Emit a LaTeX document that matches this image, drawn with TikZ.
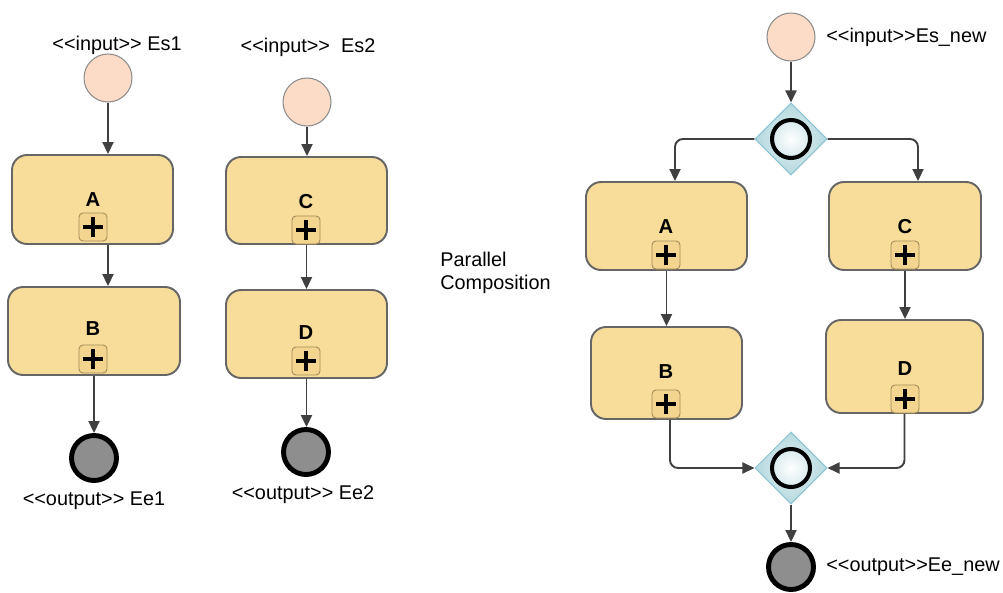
\documentclass[tikz,border=0pt]{standalone}
\usepackage{fontspec}
\setmainfont{Liberation Sans}[Ligatures=TeXOff]
\usetikzlibrary{arrows.meta,shapes.geometric,positioning}
\definecolor{taskfill}{HTML}{F7DC9A}
\definecolor{taskdraw}{HTML}{666666}
\definecolor{markerfill}{HTML}{F3D58F}
\definecolor{markerdraw}{HTML}{A08A58}
\definecolor{startfill}{HTML}{FCDCC6}
\definecolor{startdraw}{HTML}{8C8C8C}
\definecolor{endfill}{HTML}{8E8E8E}
\definecolor{gwlight}{HTML}{E4F2F4}
\definecolor{gwdark}{HTML}{B4D8DF}
\definecolor{gwdraw}{HTML}{8CC3D2}
\definecolor{flowcol}{HTML}{404040}
\tikzset{
  task/.style={draw=taskdraw, fill=taskfill, line width=1.1pt, rounded corners=0.3cm, inner sep=0pt},
  tasktxt/.style={font=\fontsize{11.5}{13}\selectfont\bfseries, inner sep=0pt},
  marker/.style={draw=markerdraw, fill=markerfill, line width=0.5pt, rounded corners=0.08cm,
    minimum size=0.56cm, inner sep=0pt,
    path picture={\draw[line width=2.2pt, black]
      ([xshift=-0.2cm]path picture bounding box.center) -- ([xshift=0.2cm]path picture bounding box.center)
      ([yshift=-0.2cm]path picture bounding box.center) -- ([yshift=0.2cm]path picture bounding box.center);}},
  startev/.style={circle, draw=startdraw, fill=startfill, line width=0.6pt, minimum size=0.96cm, inner sep=0pt},
  endev/.style={circle, draw=black, fill=endfill, line width=2.8pt, minimum size=0.9cm, inner sep=0pt},
  gateway/.style={diamond, draw=gwdraw, line width=0.6pt, shade, inner color=gwlight, outer color=gwdark,
    minimum width=1.44cm, minimum height=1.44cm, inner sep=0pt,
    path picture={\shadedraw[line width=2.3pt, draw=black, inner color=white, outer color=gwdark]
      (path picture bounding box.center) circle (0.38cm);}},
  flow/.style={draw=flowcol, line width=1.1pt, rounded corners=0.16cm, -{Triangle[length=0.24cm,width=0.22cm]}},
  evtxt/.style={font=\fontsize{11.3}{13}\selectfont, inner sep=0pt},
}
\begin{document}
\begin{tikzpicture}[x=0.02cm,y=-0.02cm]
\useasboundingbox (0,0) rectangle (1003,592);
\begin{scope}
\node[startev] (s1) at (108,78) {};
\node[evtxt] (s1t) at (117,45) {<<input>> Es1};
\node[task, minimum width=3.22cm, minimum height=1.78cm] (A1) at (92.5,199.5) {};
\node[tasktxt] (A1t) at (93,200) {A};
\node[marker] (A1m) at (93,227) {};
\node[task, minimum width=3.44cm, minimum height=1.76cm] (B1) at (94,331) {};
\node[tasktxt] (B1t) at (93,329) {B};
\node[marker] (B1m) at (93,359) {};
\node[endev] (e1) at (94,458) {};
\node[evtxt] (e1t) at (94,501) {<<output>> Ee1};
\draw[flow] (s1.south) -- (s1.south |- A1.north);
\draw[flow] (A1.south -| s1.south) -- (s1.south |- B1.north);
\draw[flow] (B1.south) -- (e1.north);
\end{scope}
\begin{scope}
\node[startev] (s2) at (307,102) {};
\node[evtxt] (s2t) at (308,47) {<<input>>\ \ Es2};
\node[task, minimum width=3.22cm, minimum height=1.74cm] (C1) at (306.5,200.5) {};
\node[tasktxt] (C1t) at (306,202) {C};
\node[marker] (C1m) at (306,230) {};
\node[task, minimum width=3.22cm, minimum height=1.76cm] (D1) at (306.5,334) {};
\node[tasktxt] (D1t) at (306,333) {D};
\node[marker] (D1m) at (306,361) {};
\node[endev] (e2) at (306,452) {};
\node[evtxt] (e2t) at (303,495) {<<output>> Ee2};
\draw[flow] (s2.south) -- (s2.south |- C1.north);
\draw[flow] (C1.south) -- (D1.north);
\draw[flow] (D1.south) -- (D1.south |- e2.north);
\end{scope}
\node[evtxt, anchor=west, align=left] (pc) at (440,273) {Parallel\\Composition};
\begin{scope}
\node[startev] (s3) at (791,37) {};
\node[evtxt, anchor=west] (s3t) at (826,37) {<<input>>Es\_new};
\node[gateway] (g1) at (791,139) {};
\node[task, minimum width=3.22cm, minimum height=1.76cm] (A2) at (666.5,226) {};
\node[tasktxt] (A2t) at (666,227) {A};
\node[marker] (A2m) at (666,255) {};
\node[task, minimum width=3.04cm, minimum height=1.76cm] (C2) at (905,226) {};
\node[tasktxt] (C2t) at (905,227) {C};
\node[marker] (C2m) at (905,255) {};
\node[task, minimum width=3.02cm, minimum height=1.84cm] (B2) at (666.5,373) {};
\node[tasktxt] (B2t) at (666,372) {B};
\node[marker] (B2m) at (666,404) {};
\node[task, minimum width=3.14cm, minimum height=1.86cm] (D2) at (904.5,366.5) {};
\node[tasktxt] (D2t) at (905,369) {D};
\node[marker] (D2m) at (905,399) {};
\node[gateway] (g2) at (791,468) {};
\node[endev] (e3) at (791,567) {};
\node[evtxt, anchor=west] (e3t) at (826,567) {<<output>>Ee\_new};
\draw[flow] (s3.south) -- (g1.north);
\draw[flow] (g1.west) -| ([xshift=0.17cm]A2.north);
\draw[flow] (g1.east) -| ([xshift=0.26cm]C2.north);
\draw[flow] (A2.south) -- (B2.north);
\draw[flow] (C2.south) -- (C2.south |- D2.north);
\draw[flow] ([xshift=0.07cm]B2.south) |- (g2.west);
\draw[flow] (D2.south) |- (g2.east);
\draw[flow] (g2.south) -- (e3.north);
\end{scope}
\end{tikzpicture}
\end{document}
